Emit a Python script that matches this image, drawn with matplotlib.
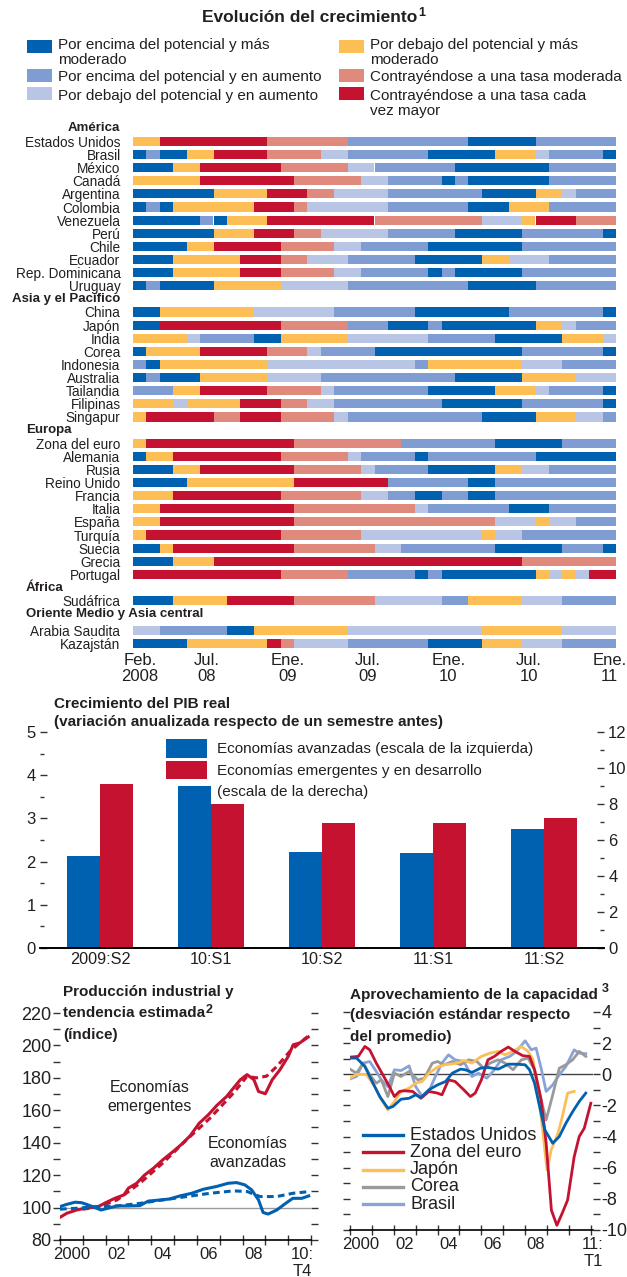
import matplotlib
matplotlib.use("Agg")
import matplotlib.pyplot as plt
import matplotlib.transforms as mtransforms
from matplotlib.patches import Rectangle
from matplotlib.lines import Line2D

plt.rcParams["font.family"] = ["Liberation Sans", "DejaVu Sans"]
plt.rcParams["axes.unicode_minus"] = False
TXT = "#231f20"

# ── Heatmap data (run-length: category + number of months, Feb 2008 .. Jan 2011) ──
CAT_COLORS = {"A": "#0061b0", "B": "#7f9dd2", "C": "#b9c5e5",
              "D": "#fdbe56", "E": "#df8a7c", "F": "#c41230"}
CAT_LABELS = {"A": "Por encima del potencial y más\nmoderado",
              "B": "Por encima del potencial y en aumento",
              "C": "Por debajo del potencial y en aumento",
              "D": "Por debajo del potencial y más\nmoderado",
              "E": "Contrayéndose a una tasa moderada",
              "F": "Contrayéndose a una tasa cada\nvez mayor"}

america_names = ["Estados Unidos", "Brasil", "México", "Canadá", "Argentina", "Colombia",
                 "Venezuela", "Perú", "Chile", "Ecuador", "Rep. Dominicana", "Uruguay"]
america_runs = ["D2 F8 E6 B9 A5 B6",
                "A1 B1 A2 D2 F4 E4 C2 B6 A5 D3 C1 B4 A1",
                "A3 D2 F6 E5 C2 B6 A7 B5",
                "D5 F7 E5 C2 B4 A1 B1 A6 B5",
                "A6 D4 F3 E2 C4 B7 A4 D2 C1 B3",
                "A1 B1 A1 D6 F3 E1 C6 B6 A3 D3 B5",
                "A5 B1 A1 D3 F8 E8 C3 D1 F3 E3",
                "A6 D3 F3 E2 C5 B5 A5 B6 A1",
                "A4 D2 F5 E4 C2 B5 A7 B7",
                "A3 D5 F3 E2 C3 B5 A5 D2 C3 B5",
                "A3 D5 F3 E4 C2 B5 A1 B1 A5 B7",
                "A1 B1 A4 D5 C5 B9 A5 B6"]

asia_names = ["China", "Japón", "India", "Corea", "Indonesia", "Australia",
              "Tailandia", "Filipinas", "Singapur"]
asia_runs = ["A2 D7 C6 B6 A7 B7 A1",
             "A2 F9 E5 B3 A3 B1 A7 D2 C1 B3",
             "D4 C1 B4 A2 D5 C6 B5 A5 D3 C1",
             "A1 D4 F5 E3 C1 B4 A11 B6 A1",
             "B1 A1 D8 C11 B1 D7 C3 B4",
             "A1 B1 A3 D5 C4 B10 A5 D4 C3",
             "B3 D2 F5 E4 C1 B7 A5 D3 C1 B4 A1",
             "D3 C1 D4 F3 E2 C2 B8 A6 B6 A1",
             "D1 F5 E2 F3 E4 C1 B10 A4 D3 C2 B1"]

europa_names = ["Zona del euro", "Alemania", "Rusia", "Reino Unido", "Francia", "Italia",
                "España", "Turquía", "Suecia", "Grecia", "Portugal"]
europa_runs = ["D1 F11 E8 B7 A5 B4",
               "A1 D2 F8 E5 C1 B4 A1 B8 A6",
               "A3 D2 F7 E5 C1 B4 A5 D2 C2 B5",
               "A4 D8 F7 B6 A2 B9",
               "D3 F8 E6 C2 B2 A2 B2 A2 B9",
               "D2 F10 E9 C1 B6 A3 B5",
               "D2 F10 E15 C3 D1 C2 B3",
               "D1 F10 E6 C9 D1 C2 B7",
               "A2 D1 F9 E6 C2 B7 A5 B3 A1",
               "A3 D3 F23 E7",
               "F11 E5 B5 A1 B1 A7 D1 C1 D1 C1 F2"]

africa_names = ["Sudáfrica"]
africa_runs = ["A3 D4 F5 E6 C5 B2 D4 C3 B4"]

oriente_names = ["Arabia Saudita", "Kazajstán"]
oriente_runs = ["C2 B5 A2 D7 C10 D6 C4",
                "A4 D6 F1 E1 C4 B6 A4 D3 C3 B4"]

month_ticks = [0, 5, 11, 17, 23, 29, 35]
month_labels = ["Feb.\n2008", "Jul.\n08", "Ene.\n09", "Jul.\n09", "Ene.\n10", "Jul.\n10", "Ene.\n11"]

# ── GDP growth bars ──
periodos = ["2009:S2", "10:S1", "10:S2", "11:S1", "11:S2"]
avanzadas = [2.12, 3.74, 2.23, 2.21, 2.76]
emergentes = [9.13, 8.02, 6.96, 6.96, 7.24]

# ── Industrial production (index) ──
em_x = [2000.0, 2000.3, 2000.73, 2001.17, 2001.68, 2002.0, 2002.4, 2002.8, 2003.0, 2003.36,
        2003.7, 2004.1, 2004.5, 2004.96, 2005.3, 2005.7, 2006.1, 2006.5, 2006.86, 2007.3,
        2007.66, 2007.9, 2008.2, 2008.5, 2008.7, 2009.0, 2009.3, 2009.64, 2010.0, 2010.22,
        2010.5, 2010.88]
em_y = [94, 96.5, 98.5, 99.8, 100.6, 103, 105.7, 107.8, 112, 115,
        120, 124.3, 129.4, 134.6, 138.7, 144.2, 152, 157.2, 162.8, 168.5,
        174.7, 178.8, 182, 178.8, 171.6, 170.2, 178.8, 185, 193.2, 200.4,
        201.5, 205.2]
em_trend_x = [2001.0, 2001.6, 2002.5, 2003.5, 2004.5, 2005.55, 2006.57, 2007.6, 2008.2,
              2008.6, 2009.05, 2009.5, 2010.07, 2010.5, 2010.95]
em_trend_y = [99.0, 100.2, 104.7, 115, 127.4, 141.8, 155.1, 170.6, 181,
              180, 181, 187, 196.3, 201.5, 206.6]
av_x = [2000.0, 2000.3, 2000.66, 2000.95, 2001.24, 2001.53, 2001.8, 2002.1, 2002.5, 2003.0,
        2003.5, 2003.87, 2004.4, 2004.8, 2005.26, 2005.77, 2006.28, 2006.86, 2007.37, 2007.74,
        2008.1, 2008.4, 2008.7, 2008.9, 2009.12, 2009.5, 2009.85, 2010.2, 2010.6, 2010.9]
av_y = [100.6, 102, 103.3, 103, 101.6, 100, 98.5, 99.6, 101, 101,
        101.2, 104, 104.7, 105.3, 107.2, 108.8, 111.3, 113, 115, 115.4,
        114, 110.9, 104.7, 97, 96, 98.5, 102.2, 105.7, 105.7, 107.2]
av_trend_x = [2000.0, 2000.75, 2001.6, 2002.5, 2003.5, 2004.5, 2005.55, 2006.57, 2007.6,
              2008.2, 2008.76, 2009.5, 2010.2, 2010.95]
av_trend_y = [99, 99.6, 100.6, 101, 102.6, 104.7, 106.8, 108.8, 110.3,
              109.9, 106.8, 106.8, 108.8, 109.9]

# ── Capacity utilisation (std. dev. from mean) ──
us_x = [2000.0, 2000.3, 2000.68, 2001.05, 2001.36, 2001.73, 2001.96, 2002.33, 2002.7, 2003.0,
        2003.24, 2003.6, 2004.0, 2004.37, 2004.67, 2005.05, 2005.27, 2005.57, 2005.95, 2006.3,
        2006.77, 2007.23, 2007.6, 2008.0, 2008.2, 2008.43, 2008.66, 2008.9, 2009.26, 2009.56,
        2009.86, 2010.17, 2010.47, 2010.77]
us_y = [1.04, 1.04, 0.5, -0.57, -1.43, -2.18, -2.07, -1.6, -1.54, -1.32,
        -1.49, -1.0, -0.68, -0.46, 0.07, 0.33, 0.29, 0.12, 0.39, 0.44,
        0.33, 0.65, 0.65, 0.61, 0.29, -0.57, -2.07, -3.57, -4.43, -4.0,
        -3.15, -2.4, -1.75, -1.21]
ez_x = [2000.0, 2000.38, 2000.68, 2000.9, 2001.2, 2001.5, 2001.8, 2002.03, 2002.26, 2002.48,
        2002.86, 2003.24, 2003.6, 2004.0, 2004.2, 2004.5, 2004.8, 2005.2, 2005.5, 2005.72,
        2006.0, 2006.3, 2006.6, 2006.9, 2007.23, 2007.53, 2007.9, 2008.2, 2008.43, 2008.73,
        2008.96, 2009.2, 2009.45, 2009.7, 2009.94, 2010.24, 2010.47, 2010.7, 2011.0]
ez_y = [1.1, 1.15, 1.79, 1.57, 0.72, -0.03, -0.79, -1.43, -1.1, -1.06,
        -1.1, -1.54, -1.1, -1.21, -1.32, -0.36, -0.46, -1.0, -1.43, -1.21,
        -0.36, 0.93, 1.15, 1.47, 1.75, 1.47, 1.19, 1.15, 0.29, -1.64,
        -4.43, -8.73, -9.7, -8.9, -8.08, -5.3, -4.0, -3.47, -1.86]
jp_x = [2000.0, 2000.3, 2000.75, 2001.13, 2001.43, 2001.73, 2002.03, 2002.33, 2002.7, 2003.0,
        2003.3, 2003.6, 2004.0, 2004.3, 2004.67, 2004.9, 2005.2, 2005.57, 2006.0, 2006.4,
        2006.77, 2007.08, 2007.45, 2007.83, 2008.13, 2008.36, 2008.58, 2008.8, 2009.0, 2009.19,
        2009.5, 2009.7, 2009.94, 2010.24]
jp_y = [-0.25, 0.0, 0.0, -0.79, -1.64, -2.29, -1.75, -1.1, -0.89, -0.57,
        -0.46, 0.07, 0.46, 0.61, 0.67, 0.72, 0.89, 0.72, 1.15, 1.36,
        1.47, 1.25, 1.47, 1.79, 1.47, 0.93, -1.0, -3.57, -6.15, -4.86,
        -3.79, -2.72, -1.21, -1.1]
kr_x = [2000.0, 2000.3, 2000.6, 2000.9, 2001.2, 2001.43, 2001.73, 2002.03, 2002.33, 2002.7,
        2003.1, 2003.4, 2003.76, 2004.0, 2004.3, 2004.67, 2005.05, 2005.42, 2005.8, 2006.1,
        2006.4, 2006.77, 2007.08, 2007.45, 2007.83, 2008.13, 2008.43, 2008.73, 2008.96, 2009.26,
        2009.56, 2009.86, 2010.17, 2010.47, 2010.77]
kr_y = [0.33, 0.07, 0.72, -0.03, -0.57, -0.36, -1.43, 0.07, -0.14, 0.18,
        -0.36, -0.25, 0.72, 0.82, 0.61, 0.82, 0.61, 0.93, 0.82, 0.39,
        0.72, 0.93, 0.72, 0.29, 0.93, 1.04, 0.29, -1.64, -2.93, -1.32,
        0.39, 0.61, 0.93, 1.47, 1.15]
br_x = [2000.0, 2000.3, 2000.6, 2000.9, 2001.2, 2001.43, 2001.73, 2002.03, 2002.33, 2002.7,
        2003.0, 2003.3, 2003.6, 2003.9, 2004.2, 2004.5, 2004.8, 2005.2, 2005.57, 2005.87,
        2006.25, 2006.6, 2006.9, 2007.3, 2007.6, 2008.0, 2008.28, 2008.5, 2008.73, 2008.96,
        2009.26, 2009.56, 2009.86, 2010.24, 2010.47, 2010.77]
br_y = [-0.3, -0.14, 0.72, 0.82, 0.18, -0.36, -0.79, 0.29, 0.24, 0.54,
        -0.79, -1.43, -1.1, -0.14, 0.72, 1.25, 0.93, 0.82, -0.14, 0.07,
        -0.25, 0.29, 0.93, 1.15, 1.47, 2.15, 1.57, 1.68, 0.39, -1.1,
        -0.68, -0.03, 0.5, 1.57, 1.36, 1.32]

# ── Layout helpers (pixel coordinates on a 627x1277 canvas) ──
W, H = 627, 1277
fig = plt.figure(figsize=(W / 100, H / 100), dpi=100)
renderer = fig.canvas.get_renderer()


def px_axes(left, top, right, bottom):
    return fig.add_axes([left / W, 1 - bottom / H, (right - left) / W, (bottom - top) / H])


def ftext(x, y, s, **kw):
    kw.setdefault("color", TXT)
    kw.setdefault("va", "center")
    return fig.text(x / W, 1 - y / H, s, **kw)


def sup_after(t, s, dy=-5, dx=1, size=8.5):
    # superscript placed just after the right edge of text t
    bb = t.get_window_extent(renderer=renderer)
    return ftext(bb.x1 + dx, H - (bb.y0 + bb.y1) / 2 + dy, s, fontsize=size, weight="bold")


def frect(x0, y0, x1, y1, color):
    fig.patches.append(Rectangle((x0 / W, 1 - y1 / H), (x1 - x0) / W, (y1 - y0) / H,
                                 transform=fig.transFigure, color=color, lw=0))


# ── 1. Heatmap ───────────────────────────────────────────────────────────────
t = ftext(310, 17, "Evolución del crecimiento", ha="center", fontsize=12.5, weight="bold")
sup_after(t, "1", dy=-4, size=9)

legend_pos = [("A", 27, 40, 45), ("B", 27, 69, 77), ("C", 27, 87, 96),
              ("D", 339, 40, 45), ("E", 339, 69, 77), ("F", 339, 87, 96)]
for cat, x0, ytop, ytxt in legend_pos:
    frect(x0, ytop, x0 + 25, ytop + 12.5, CAT_COLORS[cat])
    for k, ln in enumerate(CAT_LABELS[cat].split("\n")):
        ftext(x0 + 31, ytxt + k * 15.5, ln, fontsize=11)

groups = [("América", america_names, america_runs, "right", 1.0),
          ("Asia y el Pacífico", asia_names, asia_runs, "right", 1.0),
          ("Europa", europa_names, europa_runs, "left", 1.0),
          ("África", africa_names, africa_runs, "left", 1.0),
          ("Oriente Medio y Asia central", oriente_names, oriente_runs, "left", 1.25)]

SLOT, Y0 = 13.12, 128.3
rows, headers = [], []
pos = 0.0
for title, names, runs, align, gap in groups:
    headers.append((title, pos, align))
    pos += gap
    for name, run in zip(names, runs):
        rows.append((name, pos, run))
        pos += 1
ymax = pos - 1

axh = px_axes(133, Y0 - 0.5 * SLOT, 616, Y0 + (ymax + 0.5) * SLOT)
for name, y, run in rows:
    start = 0
    for tok in run.split():
        cat, n = tok[0], int(tok[1:])
        axh.barh(y, n, left=start, height=0.7, color=CAT_COLORS[cat], lw=0)
        start += n
axh.set_xlim(0, 36)
axh.set_ylim(ymax + 0.5, -0.5)
axh.set_yticks([r[1] for r in rows], [r[0] for r in rows], fontsize=9.8, color=TXT)
axh.set_xticks([m + 0.5 for m in month_ticks], month_labels, fontsize=12, color=TXT,
               linespacing=1.15)
axh.tick_params(length=0)
axh.tick_params(axis="y", pad=9)
axh.tick_params(axis="x", pad=2)
for s in axh.spines.values():
    s.set_visible(False)
hdr_tr = mtransforms.blended_transform_factory(fig.transFigure, axh.transData)
for title, y, align in headers:
    xh = 120 / W if align == "right" else 26 / W
    axh.text(xh, y, title, transform=hdr_tr, ha=align, va="center", fontsize=9.5,
             weight="bold", color=TXT)

# ── 2. Real GDP growth ────────────────────────────────────────────────────────
ftext(54, 704, "Crecimiento del PIB real", fontsize=11, weight="bold")
ftext(54, 722, "(variación anualizada respecto de un semestre antes)", fontsize=11, weight="bold")

axb = px_axes(40, 732, 604, 948)
axr = axb.twinx()
xs = list(range(len(periodos)))
axb.bar([x - 0.15 for x in xs], avanzadas, width=0.3, color="#0061b0", lw=0)
axr.bar([x + 0.15 for x in xs], emergentes, width=0.3, color="#c41230", lw=0)
axb.set_xlim(-0.54, 4.54)
axb.set_ylim(0, 5)
axr.set_ylim(0, 12)
axb.set_yticks(range(0, 6))
axb.set_yticks([0.5, 1.5, 2.5, 3.5, 4.5], minor=True)
axr.set_yticks(range(0, 13, 2))
axr.set_yticks(range(1, 12, 2), minor=True)
axb.set_xticks(xs, periodos, fontsize=11.7, color=TXT)
axb.tick_params(axis="x", length=0, pad=3)
for a in (axb, axr):
    a.tick_params(axis="y", which="major", direction="in", length=5, width=1,
                  labelsize=12, labelcolor=TXT, pad=3, color="#333")
    a.tick_params(axis="y", which="minor", direction="in", length=3, width=1, color="#333")
    for side in ("left", "right", "top"):
        a.spines[side].set_visible(False)
    a.spines["bottom"].set_linewidth(1.2)

frect(166, 739, 207, 758, "#0061b0")
frect(166, 761, 207, 779, "#c41230")
ftext(217, 749, "Economías avanzadas (escala de la izquierda)", fontsize=11)
ftext(217, 771, "Economías emergentes y en desarrollo", fontsize=11)
ftext(217, 792, "(escala de la derecha)", fontsize=11)

# ── 3. Industrial production ─────────────────────────────────────────────────
axp = px_axes(60, 1013, 311, 1240)
axp.axhline(100, color="#9a9a9a", lw=1, zorder=1)
axp.plot(em_trend_x, em_trend_y, color="#c41230", lw=2.2, dashes=(2.2, 1.4))
axp.plot(em_x, em_y, color="#c41230", lw=2.2)
axp.plot(av_trend_x, av_trend_y, color="#0061b0", lw=2.2, dashes=(2.2, 1.4))
axp.plot(av_x, av_y, color="#0061b0", lw=2.2)
axp.set_xlim(2000, 2011)
axp.set_ylim(80, 220)
axp.set_yticks(range(80, 221, 20))
axp.set_yticks(range(90, 220, 20), minor=True)
axp.tick_params(axis="y", which="both", direction="out", length=5, width=1,
                labelsize=13, labelcolor=TXT, pad=1, right=True, color="#333")
axp.set_xticks(range(2000, 2012), [""] * 12)
axp.set_xticks([2000.5, 2002.5, 2004.5, 2006.5, 2008.5, 2010.6],
               ["2000", "02", "04", "06", "08", "10:\nT4"], minor=True)
axp.tick_params(axis="x", which="major", direction="inout", length=7, width=1, color="#333")
axp.tick_params(axis="x", which="minor", length=0, labelsize=12, labelcolor=TXT, pad=5)
for side in ("left", "right", "top"):
    axp.spines[side].set_visible(False)
axp.spines["bottom"].set_linewidth(1.2)
ftext(63, 992, "Producción industrial y", fontsize=11, weight="bold")
t = ftext(63, 1013, "tendencia estimada", fontsize=11, weight="bold")
sup_after(t, "2", dy=-3, size=9)
ftext(63, 1035, "(índice)", fontsize=11, weight="bold")
ftext(150, 1097, "Economías\nemergentes", ha="center", fontsize=11.5, linespacing=1.35)
ftext(248, 1153, "Economías\navanzadas", ha="center", fontsize=11.5, linespacing=1.35)

# ── 4. Capacity utilisation ──────────────────────────────────────────────────
axc = px_axes(350, 1012, 593, 1230)
axc.axhline(0, color="#444444", lw=1, zorder=1)
series = [("Estados Unidos", us_x, us_y, "#0061b0"),
          ("Zona del euro", ez_x, ez_y, "#c41230"),
          ("Japón", jp_x, jp_y, "#fdbe56"),
          ("Corea", kr_x, kr_y, "#9a9a9a"),
          ("Brasil", br_x, br_y, "#8aa3d6")]
for name, sx, sy, c in reversed(series):
    axc.plot(sx, sy, color=c, lw=2)
for i, (name, _, _, c) in enumerate(series):
    yl = 1135 + i * 17.3
    fig.add_artist(Line2D([363 / W, 403 / W], [1 - yl / H] * 2, color=c, lw=2.4,
                          transform=fig.transFigure))
    ftext(410, yl, name, fontsize=13)
axc.set_xlim(2000, 2011)
axc.set_ylim(-10, 4)
axc.set_yticks(range(-10, 5, 2))
axc.set_yticks(range(-9, 4, 2), minor=True)
axc.tick_params(axis="y", which="both", direction="out", length=5, width=1, color="#333",
                left=True, right=True, labelleft=False, labelright=True,
                labelsize=13, labelcolor=TXT, pad=1)
axc.set_xticks(range(2000, 2012), [""] * 12)
axc.set_xticks([2000.5, 2002.5, 2004.5, 2006.5, 2008.5, 2011.1],
               ["2000", "02", "04", "06", "08", "11:\nT1"], minor=True)
axc.tick_params(axis="x", which="major", direction="inout", length=7, width=1, color="#333")
axc.tick_params(axis="x", which="minor", length=0, labelsize=12, labelcolor=TXT, pad=5)
for side in ("left", "right", "top"):
    axc.spines[side].set_visible(False)
axc.spines["bottom"].set_linewidth(1.2)
t = ftext(350, 995, "Aprovechamiento de la capacidad", fontsize=11, weight="bold")
sup_after(t, "3", dy=-6, dx=4, size=9)
ftext(350, 1015, "(desviación estándar respecto", fontsize=11, weight="bold")
ftext(350, 1037, "del promedio)", fontsize=11, weight="bold")

fig.savefig("out.png", dpi=100)
